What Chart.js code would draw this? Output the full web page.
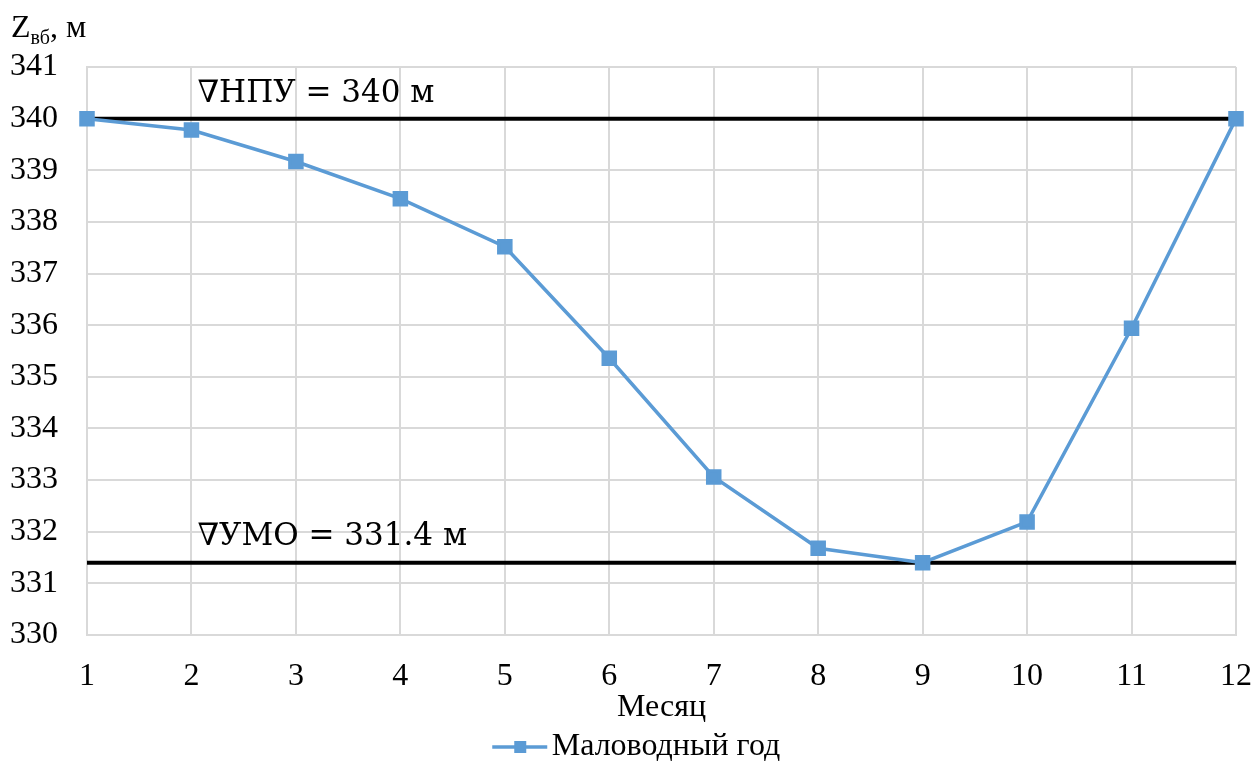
<!DOCTYPE html>
<html>
<head>
<meta charset="utf-8">
<script src="https://cdn.jsdelivr.net/npm/chart.js@4/dist/chart.umd.min.js"></script>
<style>
  html, body { margin: 0; padding: 0; background: #fff; }
</style>
</head>
<body>
<canvas id="levelChart" width="1253" height="762"></canvas>
<script>
// months and reservoir level for the dry year
const months = ['1', '2', '3', '4', '5', '6', '7', '8', '9', '10', '11', '12'];
const dryYearLevel = [340, 339.78, 339.17, 338.45, 337.52, 335.36, 333.06, 331.68, 331.4, 332.19, 335.94, 340];
// normal retained level and dead storage level
const nrlLevel = 340;
const dslLevel = 331.4;
const yTicks = [330, 331, 332, 333, 334, 335, 336, 337, 338, 339, 340, 341];

const serif = '"Liberation Serif", "Times New Roman", serif';
const blue = '#5B9BD5';
const fontSize = 32;

// legend sample: line with a square marker, drawn in the right part of the image
const legendIcon = document.createElement('canvas');
legendIcon.width = 88;
legendIcon.height = 14;
(function () {
  const c = legendIcon.getContext('2d');
  c.strokeStyle = blue;
  c.lineWidth = 3.5;
  c.beginPath();
  c.moveTo(32, 7);
  c.lineTo(87, 7);
  c.stroke();
  c.fillStyle = blue;
  c.fillRect(54, 1, 12, 12);
})();

// labels for the two level lines and the axis title
const levelLabels = {
  id: 'levelLabels',
  afterDatasetsDraw(chart) {
    const { ctx, scales: { x, y } } = chart;
    const left = x.getPixelForValue(1) + 6;
    ctx.save();
    ctx.fillStyle = '#000';
    ctx.font = '31px "DejaVu Serif", serif';
    ctx.textBaseline = 'alphabetic';
    ctx.textAlign = 'left';
    ctx.fillText('\u2207НПУ = ' + nrlLevel + ' м', left, y.getPixelForValue(nrlLevel) - 17);
    ctx.fillText('\u2207УМО = ' + dslLevel + ' м', left, y.getPixelForValue(dslLevel) - 18);
    // y axis title Zвб, м
    ctx.font = fontSize + 'px ' + serif;
    ctx.fillText('Z', 11, 37);
    const zw = ctx.measureText('Z').width;
    ctx.font = '20px ' + serif;
    ctx.fillText('вб', 11 + zw, 44);
    const sw = ctx.measureText('вб').width;
    ctx.font = fontSize + 'px ' + serif;
    ctx.fillText(', м', 11 + zw + sw, 37);
    ctx.restore();
  }
};

new Chart(document.getElementById('levelChart'), {
  type: 'line',
  data: {
    labels: months,
    datasets: [
      {
        label: 'НПУ',
        data: months.map(() => nrlLevel),
        borderColor: '#000',
        borderWidth: 4,
        pointRadius: 0,
        order: 2
      },
      {
        label: 'УМО',
        data: months.map(() => dslLevel),
        borderColor: '#000',
        borderWidth: 4,
        pointRadius: 0,
        order: 2
      },
      {
        label: 'Маловодный год',
        data: dryYearLevel,
        borderColor: blue,
        backgroundColor: blue,
        borderWidth: 3.5,
        pointStyle: 'rect',
        pointRadius: 8.5,
        pointHoverRadius: 8.5,
        tension: 0,
        order: 1
      }
    ]
  },
  options: {
    responsive: false,
    animation: false,
    devicePixelRatio: 1,
    layout: { padding: { top: 67, right: 0, left: 0, bottom: -11 } },
    plugins: {
      legend: {
        position: 'bottom',
        labels: {
          filter: item => item.text === 'Маловодный год',
          usePointStyle: true,
          pointStyle: legendIcon,
          pointStyleWidth: 63,
          color: '#000',
          font: { family: serif, size: fontSize },
          padding: 0
        }
      },
      tooltip: { enabled: false }
    },
    scales: {
      x: {
        offset: false,
        afterFit(scale) {
          scale.height = 96;
          scale.paddingRight = 17;
        },
        grid: { color: '#d9d9d9', lineWidth: 2, drawTicks: false },
        border: { color: '#d9d9d9', width: 2 },
        ticks: { color: '#000', font: { family: serif, size: fontSize }, padding: 22, maxRotation: 0 },
        title: { display: true, text: 'Месяц', color: '#000', font: { family: serif, size: fontSize }, padding: { top: 0, bottom: 4 } }
      },
      y: {
        min: 330,
        max: 341,
        afterBuildTicks(scale) { scale.ticks = yTicks.map(v => ({ value: v })); },
        afterFit(scale) { scale.width = 87; },
        grid: { color: '#d9d9d9', lineWidth: 2, drawTicks: false },
        border: { color: '#d9d9d9', width: 2 },
        ticks: { color: '#000', font: { family: serif, size: fontSize }, padding: 29 }
      }
    }
  },
  plugins: [levelLabels]
});
</script>
</body>
</html>
